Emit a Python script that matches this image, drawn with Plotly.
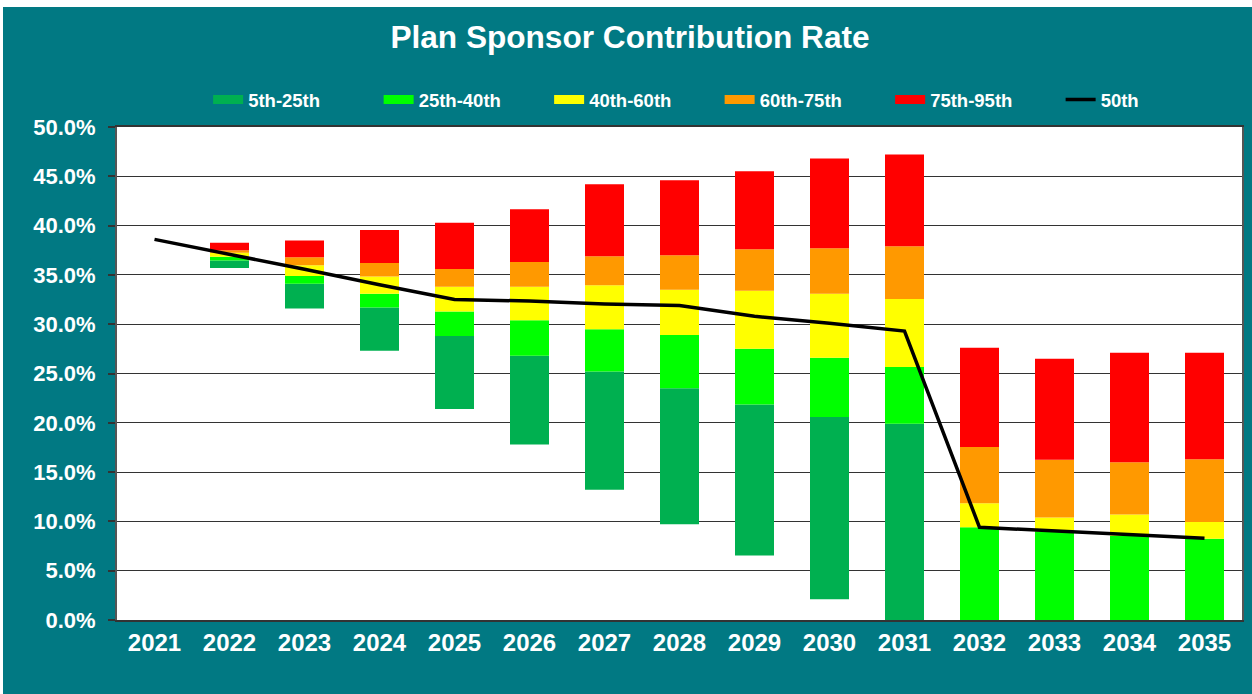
import plotly.graph_objects as go

# ---------------- data ----------------
years = ["2021", "2022", "2023", "2024", "2025", "2026", "2027", "2028",
         "2029", "2030", "2031", "2032", "2033", "2034", "2035"]

p5  = [None, 35.7, 31.6, 27.3, 21.4, 17.8, 13.2, 9.7, 6.55, 2.1, 0.0, 0.0, 0.0, 0.0, 0.0]
p25 = [None, 36.45, 34.1, 31.7, 28.8, 26.8, 25.2, 23.5, 21.85, 20.6, 19.9, 0.0, 0.0, 0.0, 0.0]
p40 = [None, 36.85, 34.9, 33.1, 31.3, 30.4, 29.5, 28.9, 27.5, 26.6, 25.65, 9.4, 9.0, 8.55, 8.25]
p60 = [None, 37.25, 35.97, 34.85, 33.8, 33.8, 33.95, 33.5, 33.4, 33.1, 32.55, 11.85, 10.4, 10.7, 9.95]
p75 = [None, 37.5, 36.8, 36.2, 35.6, 36.3, 36.9, 37.0, 37.6, 37.7, 37.9, 17.55, 16.25, 16.0, 16.3]
p95 = [None, 38.27, 38.5, 39.55, 40.3, 41.65, 44.2, 44.6, 45.5, 46.8, 47.2, 27.6, 26.5, 27.1, 27.1]
p50 = [38.6, 37.1, 35.57, 34.0, 32.5, 32.35, 32.05, 31.9, 30.8, 30.1, 29.3, 9.4, 9.05, 8.7, 8.3]

band_names = ["5th-25th", "25th-40th", "40th-60th", "60th-75th", "75th-95th"]
band_lows = [p5, p25, p40, p60, p75]
band_highs = [p25, p40, p60, p75, p95]
band_colors = ["#00B050", "#00FF00", "#FFFF00", "#FF9900", "#FF0000"]

# ---------------- styling ----------------
TEAL = "#017983"
FONT = "Liberation Sans, Arial, sans-serif"

fig = go.Figure()

for name, lo, hi, col in zip(band_names, band_lows, band_highs, band_colors):
    heights = [None if (a is None or b is None) else b - a for a, b in zip(lo, hi)]
    fig.add_trace(go.Bar(
        x=years, y=heights, base=lo, name=name,
        marker=dict(color=col, line=dict(width=0)),
        showlegend=False, hoverinfo="skip",
    ))

fig.add_trace(go.Scatter(
    x=years, y=p50, mode="lines", name="50th",
    line=dict(color="black", width=3.5), showlegend=False, hoverinfo="skip",
))

# legend entries (rectangular swatches like the original)
for name, col in zip(band_names, band_colors):
    fig.add_trace(go.Scatter(x=[None], y=[None], mode="lines", name=name,
                             line=dict(color=col, width=9)))
fig.add_trace(go.Scatter(x=[None], y=[None], mode="lines", name="50th",
                         line=dict(color="black", width=3.5)))

fig.update_layout(
    width=1249, height=687,
    margin=dict(l=114, r=8, t=120, b=74),
    paper_bgcolor=TEAL, plot_bgcolor="white",
    barmode="overlay", bargap=0.48,
    font=dict(family=FONT, color="white"),
    title=dict(text="Plan Sponsor Contribution Rate", x=0.502, xanchor="center",
               y=0.956, yanchor="middle", yref="container",
               font=dict(size=31.6, weight="bold", color="white", family=FONT)),
    legend=dict(orientation="h", x=0.081, xanchor="left", y=1.055, yanchor="middle",
                font=dict(size=18.5, weight="bold", color="white", family=FONT),
                entrywidth=125.5, entrywidthmode="pixels",
                bgcolor="rgba(0,0,0,0)", traceorder="normal"),
    xaxis=dict(type="category", showgrid=False, showline=True, linecolor="#333333",
               linewidth=2, mirror=True, ticks="",
               tickfont=dict(size=24, weight="bold", color="white", family=FONT),
               ticklabelstandoff=0),
    yaxis=dict(range=[0, 50], dtick=5, tickformat=".1f", ticksuffix="%",
               showgrid=True, gridcolor="#333333", gridwidth=1,
               showline=True, linecolor="#555555", linewidth=2, mirror=True,
               ticks="outside", ticklen=7, tickcolor="#333333", tickwidth=2,
               zeroline=False,
               tickfont=dict(size=22, weight="bold", color="white", family=FONT),
               ticklabelstandoff=8),
)

fig.write_html("out.html",
               post_script="document.body.style.margin='7px 0 0 3px';document.body.style.overflow='hidden';")
